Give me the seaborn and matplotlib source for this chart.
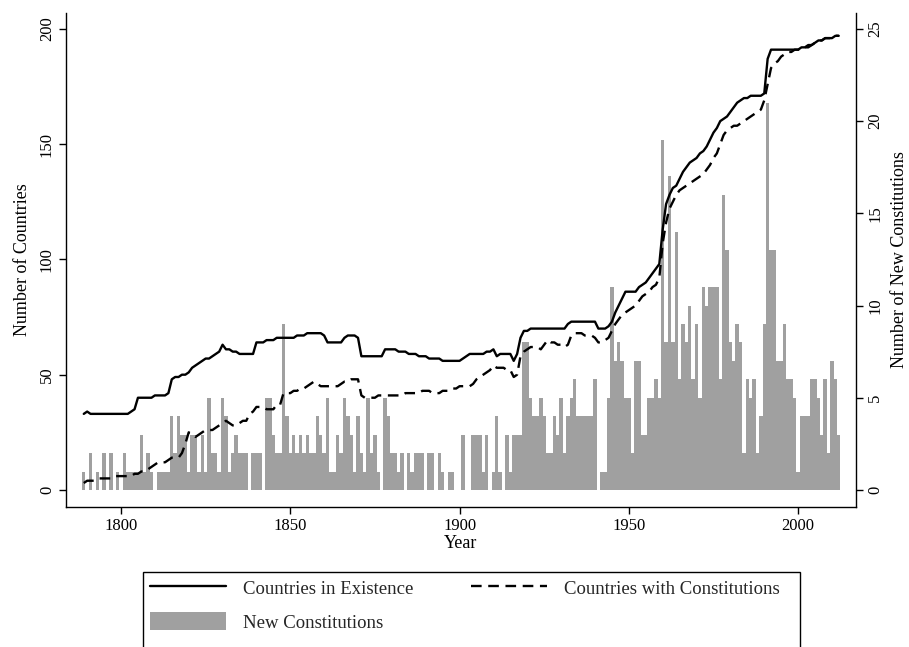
import numpy as np
import pandas as pd
import matplotlib
matplotlib.use("Agg")
import matplotlib.pyplot as plt
from matplotlib.patches import Rectangle, Patch
from matplotlib.lines import Line2D
import seaborn as sns

# Yearly series, 1789-2012
first_year = 1789
last_year = 2012

countries_in_existence = [
    33, 34, 33, 33, 33, 33, 33, 33, 33, 33, 33,          # 1789-1799
    33, 33, 33, 34, 35, 40, 40, 40, 40, 40,              # 1800s
    41, 41, 41, 41, 42, 48, 49, 49, 50, 50,              # 1810s
    51, 53, 54, 55, 56, 57, 57, 58, 59, 60,              # 1820s
    63, 61, 61, 60, 60, 59, 59, 59, 59, 59,              # 1830s
    64, 64, 64, 65, 65, 65, 66, 66, 66, 66,              # 1840s
    66, 66, 67, 67, 67, 68, 68, 68, 68, 68,              # 1850s
    67, 64, 64, 64, 64, 64, 66, 67, 67, 67,              # 1860s
    66, 58, 58, 58, 58, 58, 58, 58, 61, 61,              # 1870s
    61, 61, 60, 60, 60, 59, 59, 59, 58, 58,              # 1880s
    58, 57, 57, 57, 57, 56, 56, 56, 56, 56,              # 1890s
    56, 57, 58, 59, 59, 59, 59, 59, 60, 60,              # 1900s
    61, 58, 59, 59, 59, 59, 56, 59, 66, 69,              # 1910s
    69, 70, 70, 70, 70, 70, 70, 70, 70, 70,              # 1920s
    70, 70, 72, 73, 73, 73, 73, 73, 73, 73,              # 1930s
    73, 70, 70, 70, 71, 73, 77, 80, 83, 86,              # 1940s
    86, 86, 86, 88, 89, 90, 92, 94, 96, 98,              # 1950s
    113, 124, 128, 131, 132, 135, 138, 140, 142, 143,    # 1960s
    144, 146, 147, 149, 152, 155, 157, 160, 161, 162,    # 1970s
    164, 166, 168, 169, 170, 170, 171, 171, 171, 171,    # 1980s
    172, 187, 191, 191, 191, 191, 191, 191, 191, 191,    # 1990s
    191, 192, 192, 193, 193, 194, 195, 195, 196, 196,    # 2000s
    196, 197, 197,                                       # 2010-2012
]

countries_with_constitutions = [
    3, 4, 4, 4, 5, 5, 5, 5, 5, 6, 6,                     # 1789-1799
    6, 6, 6, 6, 7, 7, 8, 8, 9, 10,                       # 1800s
    11, 12, 12, 12, 13, 14, 14, 14, 16, 20,              # 1810s
    25, 24, 23, 24, 25, 26, 26, 26, 27, 28,              # 1820s
    29, 30, 29, 28, 28, 29, 30, 30, 33, 34,              # 1830s
    36, 36, 36, 35, 35, 35, 37, 37, 42, 42,              # 1840s
    42, 43, 43, 44, 44, 45, 46, 47, 46, 45,              # 1850s
    45, 45, 45, 45, 45, 46, 47, 47, 48, 48,              # 1860s
    48, 41, 40, 40, 40, 40, 41, 41, 41, 41,              # 1870s
    41, 41, 41, 41, 42, 42, 42, 42, 42, 43,              # 1880s
    43, 43, 42, 42, 42, 43, 43, 43, 44, 44,              # 1890s
    45, 45, 45, 45, 46, 48, 49, 50, 51, 52,              # 1900s
    54, 53, 53, 53, 52, 52, 49, 50, 58, 60,              # 1910s
    61, 62, 62, 62, 61, 63, 65, 64, 64, 63,              # 1920s
    63, 62, 63, 67, 68, 68, 68, 67, 67, 67,              # 1930s
    66, 64, 64, 65, 66, 69, 72, 74, 76, 77,              # 1940s
    78, 79, 80, 82, 84, 85, 86, 88, 89, 92,              # 1950s
    107, 116, 122, 125, 128, 130, 131, 132, 133, 134,    # 1960s
    135, 136, 137, 139, 141, 144, 146, 150, 154, 156,    # 1970s
    157, 158, 158, 159, 160, 161, 162, 163, 164, 165,    # 1980s
    169, 176, 183, 185, 186, 188, 189, 190, 190, 191,    # 1990s
    191, 191, 192, 192, 193, 194, 195, 195, 196, 196,    # 2000s
    196, 197, 197,                                       # 2010-2012
]

new_constitutions = [
    1, 0, 2, 0, 1, 0, 2, 0, 2, 0, 1,                     # 1789-1799
    0, 2, 1, 1, 1, 1, 3, 1, 2, 1,                        # 1800s
    0, 1, 1, 1, 1, 4, 2, 4, 3, 3,                        # 1810s
    1, 3, 3, 1, 3, 1, 5, 2, 2, 1,                        # 1820s
    5, 4, 1, 2, 3, 2, 2, 2, 0, 2,                        # 1830s
    2, 2, 0, 5, 5, 3, 2, 2, 9, 4,                        # 1840s
    2, 3, 2, 3, 2, 3, 2, 2, 4, 3,                        # 1850s
    2, 5, 1, 1, 3, 2, 5, 4, 3, 1,                        # 1860s
    4, 2, 1, 5, 2, 3, 1, 0, 5, 4,                        # 1870s
    2, 2, 1, 2, 0, 2, 1, 2, 2, 2,                        # 1880s
    0, 2, 2, 0, 2, 1, 0, 1, 1, 0,                        # 1890s
    0, 3, 0, 0, 3, 3, 3, 1, 3, 0,                        # 1900s
    1, 4, 1, 0, 3, 1, 3, 3, 3, 8,                        # 1910s
    8, 5, 4, 4, 5, 4, 2, 2, 4, 3,                        # 1920s
    5, 2, 4, 5, 6, 4, 4, 4, 4, 4,                        # 1930s
    6, 0, 1, 1, 5, 11, 7, 8, 7, 5,                       # 1940s
    5, 2, 7, 7, 3, 3, 5, 5, 6, 5,                        # 1950s
    19, 8, 17, 8, 14, 6, 9, 8, 10, 6,                    # 1960s
    9, 5, 11, 10, 11, 11, 11, 6, 16, 13,                 # 1970s
    8, 7, 9, 8, 2, 6, 5, 6, 2, 4,                        # 1980s
    9, 21, 13, 13, 7, 7, 9, 6, 6, 5,                     # 1990s
    1, 4, 4, 4, 6, 6, 5, 3, 6, 2,                        # 2000s
    7, 6, 3,                                             # 2010-2012
]

years = list(range(first_year, last_year + 1))
df = pd.DataFrame({
    "year": years,
    "exist": countries_in_existence,
    "const": countries_with_constitutions,
    "new": new_constitutions,
})

sns.set_theme(style="white")
plt.rcParams["font.family"] = ["Liberation Serif", "DejaVu Serif"]

W, H = 909, 647
fig = plt.figure(figsize=(W / 100, H / 100), dpi=100)

# plot region in pixels: left, right, top, bottom
L, R, T, B = 66, 856, 13, 507
ax = fig.add_axes([L / W, 1 - B / H, (R - L) / W, (B - T) / H])
ax2 = ax.twinx()

bar_grey = "#a0a0a0"
dash = (0, (4.5, 2.8))

sns.barplot(data=df, x="year", y="new", native_scale=True, width=1,
            color=bar_grey, saturation=1, errorbar=None, linewidth=0,
            ax=ax2)
for p in ax2.patches:
    p.set_antialiased(False)

sns.lineplot(data=df, x="year", y="exist", color="black", lw=1.7, ax=ax)
sns.lineplot(data=df, x="year", y="const", color="black", lw=1.7,
             linestyle=dash, ax=ax)

# lines drawn above the bars
ax.set_zorder(ax2.get_zorder() + 1)
ax.patch.set_visible(False)

ax.set_xlim(1783.75, 2017.1)
ax.set_ylim(-7.4, 206.9)
ax2.set_ylim(-7.4 / 8, 206.9 / 8)
ax.set_xticks([1800, 1850, 1900, 1950, 2000])
ax.set_yticks([0, 50, 100, 150, 200])
ax2.set_yticks([0, 5, 10, 15, 20, 25])

fs = 12
for a in (ax, ax2):
    for s in a.spines.values():
        s.set_visible(False)
        s.set_color("black")
        s.set_linewidth(1.0)
ax.spines["left"].set_visible(True)
ax.spines["bottom"].set_visible(True)
ax2.spines["right"].set_visible(True)

ax.tick_params(axis="both", direction="out", length=5, width=1, color="black",
               labelsize=fs, labelcolor="black", bottom=True, left=True, pad=3)
ax.tick_params(axis="y", labelrotation=90)
for t in ax.get_yticklabels():
    t.set_va("center")
ax2.tick_params(axis="y", direction="out", length=5, width=1, color="black",
                labelsize=fs, labelcolor="black", right=True, pad=3,
                labelrotation=90)
for t in ax2.get_yticklabels():
    t.set_va("center")

ax.set_xlabel("Year", fontsize=13, color="black", labelpad=1)
ax.set_ylabel("Number of Countries", fontsize=13, color="black", labelpad=6)
ax2.set_ylabel("Number of New Constitutions", fontsize=13, color="black",
               labelpad=6)
ax.grid(False)
ax2.grid(False)

# legend box (its lower edge runs past the bottom of the figure)
lx0, lx1, ly0 = 143, 800, 572
fig.add_artist(Rectangle((lx0 / W, -0.05), (lx1 - lx0) / W, 1 - ly0 / H + 0.05,
                         transform=fig.transFigure, fill=False,
                         edgecolor="black", lw=1.0))
h1 = Line2D([], [], color="black", lw=1.7)
h2 = Line2D([], [], color="black", lw=1.7, linestyle=dash)
h3 = Patch(facecolor=bar_grey, edgecolor="none")
lfs = 13.5
fig.legend([h1, h3, h2],
           ["Countries in Existence", "New Constitutions",
            "Countries with Constitutions"],
           ncol=2, loc="upper left", bbox_to_anchor=(146 / W, 1 - 575 / H),
           frameon=False, fontsize=lfs, handlelength=4.05, handleheight=1.1,
           handletextpad=0.9, columnspacing=3.1, labelspacing=0.75,
           borderaxespad=0, borderpad=0.2)

fig.savefig("out.png", dpi=100)
